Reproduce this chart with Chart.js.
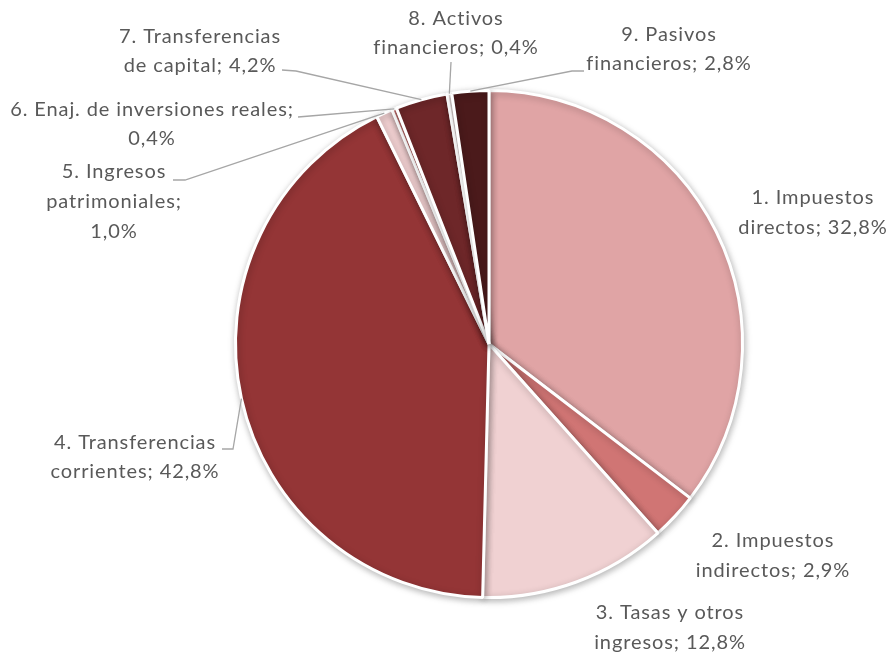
<!DOCTYPE html>
<html>
<head>
<meta charset="utf-8">
<script src="https://cdn.jsdelivr.net/npm/chart.js@4.4.1/dist/chart.umd.min.js"></script>
<style>
  html, body { margin: 0; padding: 0; background: #ffffff; }
  #wrap { position: relative; width: 891px; height: 656px; }
</style>
</head>
<body>
<div id="wrap"><canvas id="c"></canvas></div>
<script>
// Categories (slice names)
const categories = [
  "1. Impuestos directos",
  "2. Impuestos indirectos",
  "3. Tasas y otros ingresos",
  "4. Transferencias corrientes",
  "5. Ingresos patrimoniales",
  "6. Enaj. de inversiones reales",
  "7. Transferencias de capital",
  "8. Activos financieros",
  "9. Pasivos financieros"
];
// Slice sizes as drawn in the picture (percent of the circle)
const sliceValues = [35.4, 3.0, 12.0, 42.3, 1.05, 0.3, 3.3, 0.3, 2.35];
// Label texts as printed in the picture (one entry per line)
const labelLines = [
  ["1. Impuestos", "directos; 32,8%"],
  ["2. Impuestos", "indirectos; 2,9%"],
  ["3. Tasas y otros", "ingresos; 12,8%"],
  ["4. Transferencias", "corrientes; 42,8%"],
  ["5. Ingresos", "patrimoniales;", "1,0%"],
  ["6. Enaj. de inversiones reales;", "0,4%"],
  ["7. Transferencias", "de capital; 4,2%"],
  ["8. Activos", "financieros; 0,4%"],
  ["9. Pasivos", "financieros; 2,8%"]
];
const sliceColors = ["#E0A4A5", "#D07574", "#F0D1D2", "#943536", "#F0CFD0", "#D07574", "#6E2729", "#F7EAEA", "#4B1A1B"];

// Label layout: centre x, first line y, line height; leader elbow points (label side)
const labelLayout = [
  { x: 813, y: 198, lh: 30, leader: null },
  { x: 773, y: 541, lh: 30, leader: null },
  { x: 670, y: 613, lh: 30, leader: null },
  { x: 135, y: 443, lh: 29, leader: [[222, 449], [233, 449]] },
  { x: 114, y: 172, lh: 30, leader: [[173, 180], [185, 180]] },
  { x: 152, y: 110, lh: 29, leader: [[298, 117], [310, 116]] },
  { x: 200, y: 37, lh: 29, leader: [[282, 70], [296, 71]] },
  { x: 456, y: 19, lh: 29, leader: [[451, 62]] },
  { x: 669, y: 35, lh: 29, leader: [[584, 71], [572, 71]] }
];

const labelPlugin = {
  id: 'pieLabels',
  afterDatasetsDraw(chart) {
    const ctx = chart.ctx;
    const meta = chart.getDatasetMeta(0);
    ctx.save();
    // leader lines
    ctx.strokeStyle = '#A6A6A6';
    ctx.lineWidth = 1.3;
    meta.data.forEach((arc, i) => {
      const lay = labelLayout[i];
      if (!lay.leader) return;
      const p = arc.getProps(['x', 'y', 'startAngle', 'endAngle', 'outerRadius'], true);
      const mid = (p.startAngle + p.endAngle) / 2;
      const tx = p.x + Math.cos(mid) * (p.outerRadius);
      const ty = p.y + Math.sin(mid) * (p.outerRadius);
      ctx.beginPath();
      ctx.moveTo(lay.leader[0][0], lay.leader[0][1]);
      for (let k = 1; k < lay.leader.length; k++) ctx.lineTo(lay.leader[k][0], lay.leader[k][1]);
      ctx.lineTo(tx, ty);
      ctx.stroke();
    });
    // texts
    ctx.fillStyle = '#595959';
    ctx.font = '20px Lato, "Open Sans", sans-serif';
    if ('letterSpacing' in ctx) ctx.letterSpacing = '0.9px';
    ctx.textAlign = 'center';
    ctx.textBaseline = 'middle';
    labelLines.forEach((lines, i) => {
      const lay = labelLayout[i];
      lines.forEach((t, k) => ctx.fillText(t, lay.x, lay.y + k * lay.lh));
    });
    ctx.restore();
  }
};

const shadowPlugin = {
  id: 'pieShadow',
  beforeDatasetDraw(chart) {
    const ctx = chart.ctx;
    ctx.save();
    ctx.shadowColor = 'rgba(0,0,0,0.28)';
    ctx.shadowBlur = 7;
    ctx.shadowOffsetX = 1;
    ctx.shadowOffsetY = 2;
  },
  afterDatasetDraw(chart) {
    chart.ctx.restore();
  }
};

new Chart(document.getElementById('c'), {
  type: 'pie',
  data: {
    labels: categories,
    datasets: [{
      data: sliceValues,
      backgroundColor: sliceColors,
      borderColor: '#FFFFFF',
      borderWidth: 3
    }]
  },
  options: {
    responsive: true,
    maintainAspectRatio: false,
    animation: false,
    layout: { padding: { left: 234, right: 147, top: 89, bottom: 57 } },
    plugins: { legend: { display: false }, tooltip: { enabled: false } }
  },
  plugins: [shadowPlugin, labelPlugin]
});
</script>
</body>
</html>
